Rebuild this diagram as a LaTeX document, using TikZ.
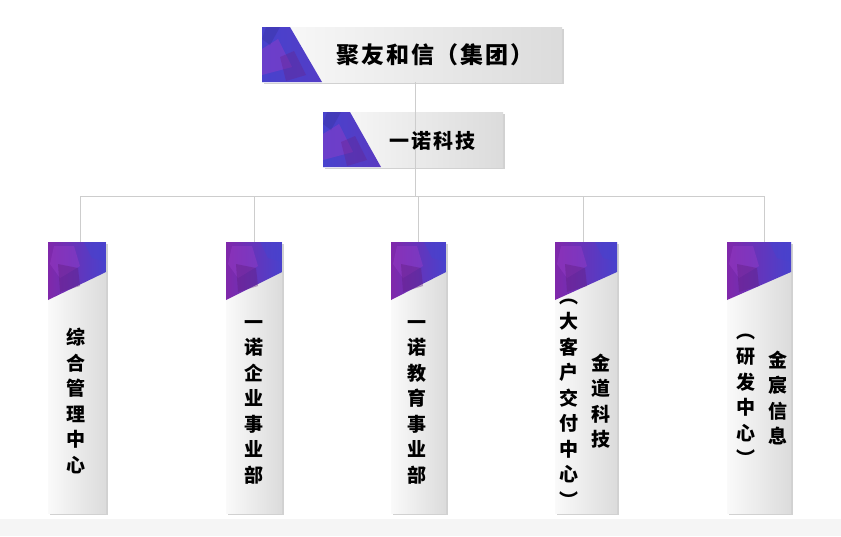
\documentclass[tikz,border=0pt]{standalone}
\usepackage{fontspec}
\setmainfont{Noto Sans CJK SC}
\usetikzlibrary{shadows,calc}
\definecolor{pv1}{RGB}{72,66,205}
\definecolor{pv2}{RGB}{128,40,170}
\definecolor{pv3}{RGB}{150,60,200}
\definecolor{lineg}{RGB}{205,205,205}
\tikzset{
 x=1pt,y=-1pt,
 boxbase/.style={rectangle,inner sep=0pt,left color=white!96!gray,right color=gray!28,
   drop shadow={opacity=0.45,shadow xshift=1.8pt,shadow yshift=-1.8pt,fill=gray!80}},
 hbox/.style 2 args={boxbase,path picture={
   \path[left color=pv1,right color=pv2]
     (path picture bounding box.north west) -- ++(#1,0) --
     ($(path picture bounding box.south west)+(#2,0)$) -- (path picture bounding box.south west) -- cycle;
   \fill[pv3,opacity=0.45] ($(path picture bounding box.north west)+(0,22)$) -- ++(16,-10) -- ++(14,28) -- ++(-30,8) -- cycle;
   \fill[pv2!80!black,opacity=0.35] ($(path picture bounding box.north west)+(18,30)$) -- ++(14,-6) -- ++(12,24) -- ++(-20,6) -- cycle;
   \fill[pv1!70!black,opacity=0.3] ($(path picture bounding box.north west)+(4,0)$) -- ++(14,0) -- ++(-10,18) -- ++(-8,-6)--cycle;}},
 vbox/.style={boxbase,minimum width=58pt,minimum height=271pt,path picture={
   \path[left color=pv2,right color=pv1]
     (path picture bounding box.north west) -- (path picture bounding box.north east) --
     ($(path picture bounding box.north east)+(0,30)$) -- ($(path picture bounding box.north west)+(0,58)$) -- cycle;
   \fill[pv3,opacity=0.45] ($(path picture bounding box.north west)+(6,4)$) -- ++(20,0) -- ++(6,20) -- ++(-20,12) -- ++(-10,-14) -- cycle;
   \fill[pv2!75!black,opacity=0.4] ($(path picture bounding box.north west)+(10,22)$) -- ++(20,4) -- ++(2,18) -- ++(-20,6) -- cycle;
   \fill[pv1,opacity=0.6] ($(path picture bounding box.north east)+(-4,0)$) -- ++(-18,0) -- ++(8,16)-- ++(14,4) -- cycle;}},
 conn/.style={draw=lineg,line width=1pt},
 vtxt/.style={font=\bfseries\fontsize{19}{25.5}\selectfont,align=center,inner sep=0pt},
 htxt/.style={inner sep=0pt}
}
\begin{document}
\begin{tikzpicture}
\useasboundingbox (0,0) rectangle (841,536);
\fill[gray!8] (0,519) rectangle (841,536);
\coordinate (j0) at (415,196);
\coordinate (jl) at (80,196);
\coordinate (jr) at (764,196);
\node[hbox={28}{60},minimum width=300pt,minimum height=55pt] (top) at (412,54.5) {};
\node[hbox={27}{58},minimum width=180pt,minimum height=55pt] (mid) at (413,139.5) {};
\node[vbox] (b1) at (77,377.5) {};
\node[vbox,minimum width=56pt] (b2) at (254,377.5) {};
\node[vbox,minimum width=55pt] (b3) at (418.5,377.5) {};
\node[vbox,minimum width=62pt] (b4) at (586,377.5) {};
\node[vbox,minimum width=64pt] (b5) at (759,377.5) {};
\draw[conn] (top.south -| j0) -- (j0);
\draw[conn] (jl) -- (jr);
\foreach \b/\xx in {b1/80,b2/254,b3/418,b4/583,b5/764}{
  \draw[conn] (\xx,196) -- (\b.north -| {\xx,0});
}
\node[htxt,font=\bfseries\fontsize{23}{26}\selectfont\addfontfeature{LetterSpace=8}] (t0) at (435,55) {聚友和信（集团）};
\node[htxt,font=\bfseries\fontsize{20}{24}\selectfont\addfontfeature{LetterSpace=10}] (t1) at (432,141) {一诺科技};
\node[vtxt] (l1) at (76,401) {综\\合\\管\\理\\中\\心};
\node[vtxt] (l2) at (254,402) {一\\诺\\企\\业\\事\\业\\部};
\node[vtxt] (l3) at (417,402) {一\\诺\\教\\育\\事\\业\\部};
\node[vtxt] (l4a) at (601,401) {金\\道\\科\\技};
\node[vtxt] (l4b) at (569,403) {︵\\大\\客\\户\\交\\付\\中\\心\\︶};
\node[vtxt] (l5a) at (778,398) {金\\宸\\信\\息};
\node[vtxt] (l5b) at (746,400) {︵\\研\\发\\中\\心\\︶};
\end{tikzpicture}
\end{document}
